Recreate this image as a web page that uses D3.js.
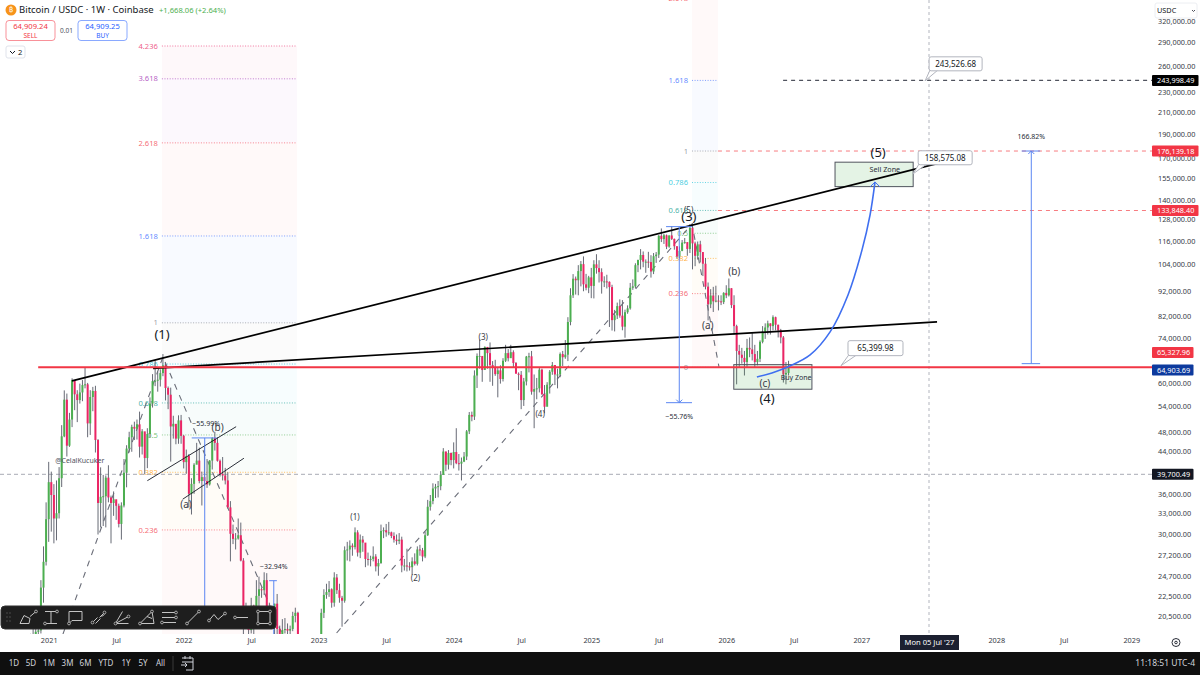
<!DOCTYPE html>
<html>
<head>
<meta charset="utf-8">
<script src="https://cdn.jsdelivr.net/npm/d3@7"></script>
<style>
  html, body { margin: 0; padding: 0; background: #fff; }
  svg { display: block; }
  text { font-family: "Noto Sans", sans-serif; }
</style>
</head>
<body>
<script>
// weekly candles, first one is the week of 16 Nov 2020, week 0 is 4 Jan 2021
var firstWeek = -7;
var firstOpen = 18400;
var candleCloses = [
  18700,18200,19150,19270,23480,26450,32200,
  38200,36000,32300,33100,38900,47200,55900,45200,51000,61200,57300,55800,57800,59800,60000,50100,56600,58200,46400,34700,35700,35800,39000,35600,34700,35300,34250,31500,34300,39900,44600,47000,49300,48900,49900,45000,48300,42700,47700,54900,60900,61000,61300,63200,65500,59000,57200,49400,50000,46700,50800,47300,
  41900,43100,36200,37900,41400,42200,38400,39100,38400,37800,42200,46800,45800,42150,39700,39400,38500,34000,30100,29400,29450,29900,26600,20600,21500,19300,21600,20800,22600,23300,23200,24300,21500,20000,19900,21800,19400,18800,19300,19400,19250,19400,20600,20900,16300,16300,16400,17100,17100,16800,16800,16500,
  17100,20900,22700,23000,23300,21900,24600,23200,22400,22100,27900,28000,28500,28300,30300,27600,29300,28900,26800,26700,26800,27100,25900,26300,30500,30600,30300,30300,29800,29300,29100,29300,26000,26000,25900,25800,26500,26200,28000,27900,27100,29900,34100,35000,37100,37400,37500,39500,44000,41400,43700,42300,
  43900,41700,41600,42000,43000,48300,52100,51700,62500,68400,68400,64100,71300,69300,65600,64900,62900,64000,61500,66900,69300,67700,69600,66200,63000,62700,55800,60800,68200,68300,58000,58700,58900,64200,57300,54100,59900,63600,65600,62800,62800,69000,68000,68800,80000,90500,97700,97000,101200,104500,95200,93700,98300,
  94500,104400,102600,100700,96500,96500,96300,94000,80700,82500,86100,82400,78300,83700,85200,93700,94300,104000,106500,109000,105700,105700,105500,101000,108400,109200,119100,117300,119400,113300,119300,117400,113500,108300,111100,115400,115700,112100,123500,115000,108600,114500,110500,104700,94200,86800,90400,88000,88300,88000,87700,91500,
  90500,93500,86500,78500,70000,68800,67800,66500,71000,70500,69000,66500,67500,73000,76500,78000,79500,78500,81800,79000,77000,74500,62800,63240,64903
];
var candleHighs = [
  18970,19480,19920,19420,24300,28400,34800,
  41950,40100,37850,38500,40950,49700,58350,57500,52600,61700,61200,58400,60200,61200,64900,60400,58400,59300,59600,46600,40900,39500,39400,41300,35900,36600,35100,34600,34800,42500,45300,48200,49800,50500,51000,52900,48800,48000,49000,56500,62900,67000,63600,64300,69000,66300,59400,59100,51900,49500,52000,52100,
  47500,44400,43500,38900,41700,45800,44800,40100,45400,42500,42300,47000,48200,47000,42400,42900,40800,40000,35000,31400,30200,32300,31700,26900,21900,21500,22400,21700,24300,24700,23500,25200,25100,21900,20600,21800,22800,19700,20300,20400,19900,19700,21000,21400,21000,17200,16800,17400,17500,18300,17000,16900,
  17200,21300,23300,23900,24200,23400,25200,25000,23900,22600,28400,29000,29200,28800,31000,30600,30000,29800,28800,27600,27200,28400,27400,26800,31400,31000,31500,31800,30400,30300,30000,30200,29700,26800,28100,26400,27000,27500,28400,28600,28200,30400,35200,36000,38000,37900,38400,40200,44700,44000,44300,43800,
  45900,49000,43500,42800,43900,48600,52800,52900,64000,69200,73800,68000,71500,71300,72800,66800,67200,64700,65500,67700,72000,70600,72000,70200,66500,63400,63800,61800,68400,69400,70000,62800,61800,65000,64500,59800,60600,64100,66500,65600,64500,69500,70000,73600,81800,93500,99800,98700,104000,106000,108300,99900,99000,
  102700,106400,109400,106400,102500,98800,99500,96500,95000,84600,87500,88800,88500,84700,86400,95800,97400,104900,106700,112000,110800,106800,110600,108900,110000,110500,119500,123200,120200,119800,119300,124500,117600,113500,113400,116800,117900,113500,125700,126200,115900,116000,116400,107300,107500,96000,93100,94100,94600,90500,90500,91800,
  94800,97800,93500,90500,79000,72000,71000,70000,74000,74500,76000,72000,70000,73500,78500,79500,80500,79500,82500,82000,79000,77500,75000,66500,66900
];
var candleLows = [
  15900,16200,17600,17650,19000,21900,26000,
  29000,30400,28800,29200,32300,37350,47000,43000,44950,49250,53250,50400,54900,55500,58900,47000,47500,53000,43800,30000,31000,31200,31000,34800,28800,32700,32100,31000,29300,34000,37300,43800,43950,46400,46500,42800,43400,39600,40750,46900,53900,59500,58000,59400,62300,55700,53500,42000,46700,45500,45600,45600,
  40700,39700,34000,32900,36200,41700,38000,34300,37500,37200,37600,40500,44200,42000,39200,38500,37800,33800,26500,28700,28000,29300,26500,17600,19600,18600,19000,18900,20700,20700,22400,22700,20800,19600,19500,18500,18200,18100,18500,19000,18200,18900,19200,20000,15500,15700,15500,16000,16700,16500,16300,16300,
  16500,17300,20400,22300,22500,21400,21500,22800,21900,19600,21900,26600,26500,27200,28000,27100,26900,27700,25800,26000,25900,26500,25300,24800,26200,29500,29700,29900,29500,28900,28600,28700,25200,25400,25300,25400,24900,26000,26000,27200,26500,26900,29800,33500,34500,35500,35600,36800,39900,40200,40500,41300,
  40700,41500,40300,38500,41900,42300,47700,50600,50900,59000,64500,60700,64500,64500,60700,59600,62400,56500,60200,60800,66500,66700,68400,64900,63400,58400,53500,54300,59700,63400,57200,49000,56000,57800,57200,52500,54600,57500,62700,59800,58900,62000,65300,67500,66800,78800,89400,90800,90500,94300,92200,92600,91400,
  89300,89200,100000,96000,91200,94000,93400,78200,76900,76600,81100,81600,77000,74400,83100,84700,92800,93500,100700,102000,103000,100400,102700,98200,99800,105100,107500,115700,114700,112000,112700,116800,111700,107300,107300,110900,114800,108600,110000,102000,103500,106700,105300,98900,93000,80600,85300,83800,87600,84400,86500,86900,
  89300,90000,85300,75500,60000,65000,66000,62500,65000,68000,67000,65000,65500,66500,72500,74000,75500,75500,77000,77000,74500,72500,60500,60000,62500
];

var timeTickWeeks = [0, 26, 52, 78, 104, 130, 156, 182, 209, 235, 261, 287, 313, 365, 391, 417];
var timeTickLabels = ["2021", "Jul", "2022", "Jul", "2023", "Jul", "2024", "Jul", "2025", "Jul", "2026", "Jul", "2027", "2028", "Jul", "2029"];
var priceTicks = [320000, 290000, 260000, 230000, 210000, 190000, 170000, 155000, 140000, 128000, 116000, 104000, 92000, 82000, 74000, 60000, 54000, 48000, 44000, 36000, 33000, 30000, 27200, 24700, 22500, 20500];

// fibonacci tools
var fibColors = ["#e91e63", "#9c27b0", "#f23645", "#2962ff", "#787b86", "#00bcd4", "#009688", "#4caf50", "#ff9800", "#f23645", "#787b86"];
var fibLevels = ["4.236", "3.618", "2.618", "1.618", "1", "0.786", "0.618", "0.5", "0.382", "0.236", "0"];
var fibLeftPrices = [286000, 245800, 182900, 119000, 79700, 65900, 55060, 47500, 39980, 30640, 15700];
var fibLeftWeeks = [43.6, 95.6];
var fibRightPrices = [356100, 244000, 176139, 152300, 133900, 120500, 107300, 91200, 64903];
var fibRightWeeks = [247.8, 257.8];

// drawn lines, [week, price]
var upperTrend = [[8.98, 60950], [347.9, 169060]];
var lowerTrend = [[40.2, 64570], [342.2, 80030]];
var channelTop = [[38.0, 38460], [72.2, 49350]];
var channelBottom = [[51.6, 35300], [75.2, 42660]];
var waveLeft = [[5.5, 18950], [44, 68070], [89.9, 18950]];
var waveRight = [[110.9, 19040], [247.8, 125800], [258.2, 65020]];
var projection = [[272.8, 62080], [278.6, 63240], [285.5, 65310], [293.3, 68720], [301, 76420], [307.9, 90650], [313.3, 111590], [316.4, 131160], [318.3, 152700]];

// measure tools: week, cap from, cap to, start price, end price, label
var measureWeeks = [60.1, 86.7, 242.9, 378.5];
var measureFrom = [55.1, 84.9, 237.8, 374.8];
var measureTo = [64.7, 87.9, 247.8, 381.9];
var measureStart = [46850, 24240, 124250, 66014];
var measureEnd = [20620, 16260, 55130, 176139];
var measureLabels = ["\u221255.99%", "\u221232.94%", "\u221255.76%", "166.82%"];

var zoneWeeks = [[263.9, 294.0], [302.9, 333.0]];
var zonePrices = [[65710, 58660], [167300, 149450]];
var zoneLabels = ["Buy Zone", "Sell Zone"];

var calloutWeeks = [333, 305.2, 337.6];
var calloutPrices = [158575.08, 65399.98, 243526.68];

var waveText = ["(1)", "(3)", "(5)", "(4)", "(b)", "(a)", "(b)", "(a)", "(c)", "(1)", "(2)", "(3)", "(4)", "(5)"];
var waveWeeks = [43.65, 246.6, 319.5, 276.7, 65.1, 52.9, 264.1, 253.9, 275.9, 118, 141.3, 167.4, 189.3, 246.5];
var wavePrices = [75700, 129950, 174600, 56340, 49060, 34400, 100800, 78670, 60300, 32430, 24510, 74580, 52330, 134200];
var waveSizes = [13, 13, 13, 13, 10, 10, 10, 10, 10, 8, 8, 8, 8, 8];

var priceLines = [243998.49, 176139.18, 133848.40];
var priceLineStart = [282.9, 257.8, 257.8];

var W = 1200, H = 675, paneW = 1152, paneH = 634;

var x = d3.scaleLinear().domain([0, 400]).range([48.7, 1087.1]);
var y = d3.scaleLog().domain([20500, 290000]).range([617, 43]);

var svg = d3.select("body").append("svg").attr("width", W).attr("height", H);
svg.append("rect").attr("width", W).attr("height", H).attr("fill", "#fff");
svg.append("clipPath").attr("id", "pane").append("rect").attr("width", paneW).attr("height", paneH);

var pane = svg.append("g").attr("clip-path", "url(#pane)");

var segment = d3.line().x(function (d) { return x(d[0]); }).y(function (d) { return y(d[1]); });

function drawFib(prices, weeks, colors, levels) {
  var g = pane.append("g");
  prices.forEach(function (p, i) {
    if (i < prices.length - 1) {
      g.append("rect")
        .attr("x", x(weeks[0])).attr("width", x(weeks[1]) - x(weeks[0]))
        .attr("y", y(p)).attr("height", y(prices[i + 1]) - y(p))
        .attr("fill", colors[i]).attr("opacity", 0.03);
    }
    g.append("line")
      .attr("x1", x(weeks[0])).attr("x2", x(weeks[1]))
      .attr("y1", y(p)).attr("y2", y(p))
      .attr("stroke", colors[i]).attr("stroke-opacity", 0.6)
      .attr("stroke-dasharray", "1 1.6");
    if (y(p) < paneH) {
      g.append("text")
        .attr("x", x(weeks[0]) - 4).attr("y", y(p))
        .attr("dy", "0.35em").attr("text-anchor", "end")
        .attr("font-size", 7.6).attr("fill", colors[i]).attr("fill-opacity", 0.75)
        .text(levels[i]);
    }
  });
}
drawFib(fibLeftPrices, fibLeftWeeks, fibColors, fibLevels);
drawFib(fibRightPrices, fibRightWeeks, fibColors.slice(2), fibLevels.slice(2));

// crosshair
pane.append("line")
  .attr("x1", 929).attr("x2", 929).attr("y1", 0).attr("y2", paneH)
  .attr("stroke", "#b2b5be").attr("stroke-dasharray", "3 3");
pane.append("line")
  .attr("x1", 0).attr("x2", paneW).attr("y1", y(39700.49) + 0.5).attr("y2", y(39700.49) + 0.5)
  .attr("stroke", "#a8abb5").attr("stroke-dasharray", "4 3");

// wave dashes
[waveLeft, waveRight].forEach(function (w) {
  pane.append("path").attr("d", segment(w))
    .attr("fill", "none").attr("stroke", "#6a6d78").attr("stroke-width", 1.1)
    .attr("stroke-dasharray", "6 6");
});

// candles
var candles = candleCloses.map(function (c, i) {
  return {
    week: firstWeek + i,
    open: i == 0 ? firstOpen : candleCloses[i - 1],
    close: c,
    high: candleHighs[i],
    low: candleLows[i]
  };
});

var bars = pane.append("g").selectAll("g").data(candles).enter().append("g");
bars.append("line")
  .attr("x1", function (d) { return x(d.week); })
  .attr("x2", function (d) { return x(d.week); })
  .attr("y1", function (d) { return y(d.high); })
  .attr("y2", function (d) { return y(d.low); })
  .attr("stroke", "#676a75").attr("stroke-width", 1);
bars.append("rect")
  .attr("x", function (d) { return x(d.week) - 1; })
  .attr("width", 2)
  .attr("y", function (d) { return y(Math.max(d.open, d.close)); })
  .attr("height", function (d) { return Math.max(1, Math.abs(y(d.open) - y(d.close))); })
  .attr("fill", function (d) { return d.close >= d.open ? "#4caf50" : "#ec2565"; });

// horizontal dashed levels
priceLines.forEach(function (p, i) {
  pane.append("line")
    .attr("x1", x(priceLineStart[i])).attr("x2", paneW)
    .attr("y1", y(p)).attr("y2", y(p))
    .attr("stroke", i == 0 ? "#50535e" : "#f77c80")
    .attr("stroke-width", i == 0 ? 1.4 : 1)
    .attr("stroke-dasharray", "4 4");
});

// zones
zoneWeeks.forEach(function (w, i) {
  pane.append("rect")
    .attr("x", x(w[0])).attr("width", x(w[1]) - x(w[0]))
    .attr("y", y(zonePrices[i][0])).attr("height", y(zonePrices[i][1]) - y(zonePrices[i][0]))
    .attr("fill", "#4caf50").attr("fill-opacity", 0.15)
    .attr("stroke", "#50535e").attr("stroke-width", 1);
});
pane.append("text").attr("x", x(zoneWeeks[0][1]) - 0.5).attr("y", y(zonePrices[0][1]) - 12)
  .attr("dy", "0.35em").attr("text-anchor", "end").attr("font-size", 7).attr("fill", "#2a2e39").text(zoneLabels[0]);
pane.append("text").attr("x", x(zoneWeeks[1][1]) - 13).attr("y", y(zonePrices[1][0]) + 7)
  .attr("dy", "0.35em").attr("text-anchor", "end").attr("font-size", 7.2).attr("fill", "#2a2e39").text(zoneLabels[1]);

// trend lines
[upperTrend, lowerTrend].forEach(function (t) {
  pane.append("path").attr("d", segment(t)).attr("stroke", "#000").attr("stroke-width", 1.7).attr("fill", "none");
});
[channelTop, channelBottom].forEach(function (t) {
  pane.append("path").attr("d", segment(t)).attr("stroke", "#131722").attr("stroke-width", 0.9).attr("fill", "none");
});

// last price line
pane.append("line")
  .attr("x1", x(-4.05)).attr("x2", paneW)
  .attr("y1", y(64903.69)).attr("y2", y(64903.69))
  .attr("stroke", "#f23645").attr("stroke-width", 2);

// projection curve
var curve = d3.line().x(function (d) { return x(d[0]); }).y(function (d) { return y(d[1]); }).curve(d3.curveCatmullRom);
pane.append("path").attr("d", curve(projection)).attr("fill", "none").attr("stroke", "#3f6ff0").attr("stroke-width", 1.6);
var tip = projection[projection.length - 1];
pane.append("path")
  .attr("d", "M" + (x(tip[0]) - 5) + " " + (y(tip[1]) + 5) + "L" + x(tip[0]) + " " + y(tip[1]) + "L" + (x(tip[0]) + 5) + " " + (y(tip[1]) + 5))
  .attr("fill", "none").attr("stroke", "#3f6ff0").attr("stroke-width", 1);

// measure tools
measureWeeks.forEach(function (w, i) {
  var g = pane.append("g").attr("stroke", "#5b86f2").attr("fill", "none");
  g.append("line").attr("x1", x(w)).attr("x2", x(w)).attr("y1", y(measureStart[i])).attr("y2", y(measureEnd[i]));
  g.append("line").attr("x1", x(measureFrom[i])).attr("x2", x(measureTo[i])).attr("y1", y(measureStart[i])).attr("y2", y(measureStart[i]));
  g.append("line").attr("x1", x(measureFrom[i])).attr("x2", x(measureTo[i])).attr("y1", y(measureEnd[i])).attr("y2", y(measureEnd[i]));
  var dir = measureEnd[i] > measureStart[i] ? 1 : -1;
  g.append("path")
    .attr("d", "M" + (x(w) - 3) + " " + (y(measureEnd[i]) + 3 * dir) + "L" + x(w) + " " + y(measureEnd[i]) + "L" + (x(w) + 3) + " " + (y(measureEnd[i]) + 3 * dir));
  var above = i == 2 ? 14 : -14;
  var ref = i == 2 || i == 3 ? y(measureEnd[i]) : y(measureStart[i]);
  pane.append("text").attr("x", x(w) + (i == 0 ? 1.5 : 0)).attr("y", ref + above)
    .attr("dy", "0.35em").attr("text-anchor", "middle").attr("font-size", 7).attr("fill", "#2a2e39")
    .text(measureLabels[i]);
});

// callouts
var calloutOffsets = [[5, -23, 54, 14], [7, -25, 55, 15], [4, -24, 53, 14]];
calloutWeeks.forEach(function (w, i) {
  var px = x(w), py = y(calloutPrices[i]), o = calloutOffsets[i];
  var bx = px + o[0], by = py + o[1];
  pane.append("path")
    .attr("d", "M" + px + " " + py + "L" + (bx + 1) + " " + (by + o[3] - 1) + "L" + (bx + 9) + " " + (by + o[3] - 1) + "Z")
    .attr("fill", "#fff").attr("stroke", "#b2b5be");
  pane.append("rect").attr("x", bx).attr("y", by).attr("width", o[2]).attr("height", o[3]).attr("rx", 2)
    .attr("fill", "#fff").attr("stroke", "#b2b5be");
  pane.append("text").attr("x", bx + o[2] / 2).attr("y", by + o[3] / 2)
    .attr("dy", "0.35em").attr("text-anchor", "middle").attr("font-size", 8).attr("fill", "#131722")
    .text(d3.format(",.2f")(calloutPrices[i]));
});

// wave labels
waveText.forEach(function (t, i) {
  pane.append("text").attr("x", x(waveWeeks[i])).attr("y", y(wavePrices[i]))
    .attr("dy", "0.35em").attr("text-anchor", "middle").attr("font-size", waveSizes[i])
    .attr("fill", i < 4 ? "#131722" : "#3a3d46").text(t);
});
pane.append("text").attr("x", x(2.5)).attr("y", 461).attr("dy", "0.35em")
  .attr("font-size", 7).attr("fill", "#50535e").text("@CelalKucuker");

// price axis
var yAxis = svg.append("g").attr("transform", "translate(1157,-0.8)")
  .call(d3.axisRight(y).tickValues(priceTicks).tickFormat(d3.format(",.2f")).tickSize(0).tickPadding(1));
yAxis.select(".domain").remove();
yAxis.selectAll("text").attr("font-size", 7.3).attr("fill", "#363a45").style("font-family", '"Noto Sans", sans-serif');

// time axis
var xAxis = svg.append("g").attr("transform", "translate(0,634)")
  .call(d3.axisBottom(x).tickValues(timeTickWeeks).tickFormat(function (d, i) { return timeTickLabels[i]; }).tickSize(0).tickPadding(4));
xAxis.select(".domain").remove();
xAxis.selectAll("text").attr("font-size", 7.3).attr("fill", "#363a45").style("font-family", '"Noto Sans", sans-serif');

svg.append("rect").attr("x", 900).attr("y", 635).attr("width", 59).attr("height", 15).attr("fill", "#1c2030");
svg.append("text").attr("x", 929.5).attr("y", 642.5).attr("dy", "0.35em").attr("text-anchor", "middle")
  .attr("font-size", 7.6).attr("fill", "#fff").text("Mon 05 Jul '27");

// price labels
var tagValues = ["243,998.49", "176,139.18", "133,848.40", "65,327.96", "64,903.69", "39,700.49"];
var tagColors = ["#000", "#f23645", "#f23645", "#f23645", "#0d3a9e", "#131722"];
var tagPrices = [243998.49, 176139.18, 133848.40, 69500, 64100, 39700.49];
tagValues.forEach(function (t, i) {
  var py = y(tagPrices[i]) + (i == 5 ? 0.5 : 0);
  svg.append("rect").attr("x", 1152).attr("y", py - 5.5).attr("width", i < 3 ? 46.5 : 41.5).attr("height", 11).attr("rx", 1).attr("fill", tagColors[i]);
  svg.append("text").attr("x", 1157).attr("y", py).attr("dy", "0.35em").attr("font-size", 7.3).attr("fill", "#fff").text(t);
});

// USDC button
svg.append("rect").attr("x", 1155).attr("y", 3).attr("width", 42).attr("height", 15).attr("rx", 2).attr("fill", "#fff").attr("stroke", "#eceef2");
svg.append("text").attr("x", 1157).attr("y", 10.5).attr("dy", "0.35em").attr("font-size", 7.3).attr("fill", "#131722").text("USDC");
svg.append("path").attr("d", "M1192 10l1.5 1.5L1195 10").attr("fill", "none").attr("stroke", "#50535e");

// gear
svg.append("circle").attr("cx", 1176).attr("cy", 642.5).attr("r", 4).attr("fill", "none").attr("stroke", "#2a2e39");
svg.append("circle").attr("cx", 1176).attr("cy", 642.5).attr("r", 1.3).attr("fill", "none").attr("stroke", "#2a2e39");

// header
svg.append("circle").attr("cx", 11).attr("cy", 10).attr("r", 5.5).attr("fill", "#f7931a");
svg.append("text").attr("x", 11).attr("y", 10).attr("dy", "0.35em").attr("text-anchor", "middle").attr("font-size", 7).attr("fill", "#fff").text("\u20bf");
svg.append("text").attr("x", 19).attr("y", 10).attr("dy", "0.35em").attr("font-size", 9.5).attr("fill", "#131722").text("Bitcoin / USDC \u00b7 1W \u00b7 Coinbase");
svg.append("text").attr("x", 159).attr("y", 10).attr("dy", "0.35em").attr("font-size", 7.6).attr("fill", "#4caf50").text("+1,668.06 (+2.64%)");

var tradeText = ["64,909.24", "64,909.25"];
var tradeSide = ["SELL", "BUY"];
var tradeColor = ["#f23645", "#2962ff"];
tradeText.forEach(function (t, i) {
  var bx = i == 0 ? 6 : 78;
  svg.append("rect").attr("x", bx).attr("y", 20.5).attr("width", 49).attr("height", 20).attr("rx", 3).attr("fill", "#fff").attr("stroke", tradeColor[i]).attr("stroke-opacity", 0.55);
  svg.append("text").attr("x", bx + 24.5).attr("y", 26.5).attr("dy", "0.35em").attr("text-anchor", "middle").attr("font-size", 7.6).attr("fill", tradeColor[i]).text(t);
  svg.append("text").attr("x", bx + 24.5).attr("y", 35.5).attr("dy", "0.35em").attr("text-anchor", "middle").attr("font-size", 6.5).attr("fill", tradeColor[i]).text(tradeSide[i]);
});
svg.append("text").attr("x", 66.5).attr("y", 30.5).attr("dy", "0.35em").attr("text-anchor", "middle").attr("font-size", 6.5).attr("fill", "#50535e").text("0.01");
svg.append("rect").attr("x", 6).attr("y", 46).attr("width", 19).attr("height", 12).attr("rx", 2).attr("fill", "#fff").attr("stroke", "#e0e3eb");
svg.append("path").attr("d", "M10 51l2.5 2.5L15 51").attr("fill", "none").attr("stroke", "#131722");
svg.append("text").attr("x", 18).attr("y", 52).attr("dy", "0.35em").attr("font-size", 7.6).attr("fill", "#131722").text("2");

// drawing toolbar
svg.append("rect").attr("x", 1).attr("y", 606).attr("width", 275).attr("height", 23).attr("rx", 4).attr("fill", "#1e1e1e").attr("stroke", "#2e2e2e");
[7, 10].forEach(function (gx) {
  [613, 617, 621].forEach(function (gy) {
    svg.append("circle").attr("cx", gx).attr("cy", gy).attr("r", 0.7).attr("fill", "#5a5a5a");
  });
});
var toolIconX = [28, 51, 75, 98.5, 122.5, 148, 169, 193, 217, 241, 264];
var toolIconPaths = [
  "M-8 6 L-4 -2 L2 1 L1 6 Z M2 -1 L8 -6",
  "M-6 -6 H6 M0 -6 V6 M-6 6 H6",
  "M-6 6 V-6 H7 V3 H-3 Z",
  "M-6 5 L-1 0 M1 0 L6 -5 M-3 6 L2 1 M3 -1 L6 -3",
  "M-7 6 H6 M-7 6 L0 -6 M-7 6 L6 -1",
  "M-8 6 H6 L4 -6 Z M-1 -1 L4 1",
  "M-7 -5 H7 M-7 0 H7 M-7 5 H7",
  "M-6 6 L6 -6",
  "M-8 3 L-3 -3 L1 2 L8 -4",
  "M-6 0 H7",
  "M-6 -6 H6 V6 H-6 Z"
];
var toolIconDots = [
  [[8, -6]], [[6, -6], [-6, 6]], [[-6, 6]], [[-6, 5], [6, -5]], [[-7, 6], [6, -1]], [[-8, 6], [4, -6]],
  [[7, -5], [7, 0], [-7, 5]], [[-6, 6], [6, -6]], [[-8, 3], [8, -4]], [[-6, 0]], [[-6, -6], [6, -6], [-6, 6], [6, 6]]
];
toolIconPaths.forEach(function (d, i) {
  var g = svg.append("g").attr("transform", "translate(" + toolIconX[i] + ",617.5)");
  g.append("path").attr("d", d).attr("fill", "none").attr("stroke", "#c4c4c4").attr("stroke-width", 1);
  toolIconDots[i].forEach(function (p) {
    g.append("circle").attr("cx", p[0]).attr("cy", p[1]).attr("r", 1.4).attr("fill", "#1e1e1e").attr("stroke", "#c4c4c4").attr("stroke-width", 0.8);
  });
});

// bottom bar
svg.append("rect").attr("x", 0).attr("y", 652).attr("width", W).attr("height", 23).attr("fill", "#0f0f0f");
var rangeLabels = ["1D", "5D", "1M", "3M", "6M", "YTD", "1Y", "5Y", "All"];
var rangeX = [14, 31, 49, 67.5, 85.5, 106, 126, 143, 160.5];
rangeLabels.forEach(function (t, i) {
  svg.append("text").attr("x", rangeX[i]).attr("y", 663.5).attr("dy", "0.35em").attr("text-anchor", "middle")
    .attr("font-size", 8).attr("fill", "#d1d4dc").text(t);
});
svg.append("line").attr("x1", 173).attr("x2", 173).attr("y1", 656).attr("y2", 671).attr("stroke", "#3a3a3a");
svg.append("path").attr("d", "M182 658H193V670H186M182 662H193M185 656V659M190 656V659M181 665H187M185 663l2 2-2 2").attr("fill", "none").attr("stroke", "#d1d4dc");
svg.append("text").attr("x", 1195).attr("y", 663.5).attr("dy", "0.35em").attr("text-anchor", "end").attr("font-size", 8.5).attr("fill", "#d1d4dc").text("11:18:51 UTC-4");
</script>
</body>
</html>
